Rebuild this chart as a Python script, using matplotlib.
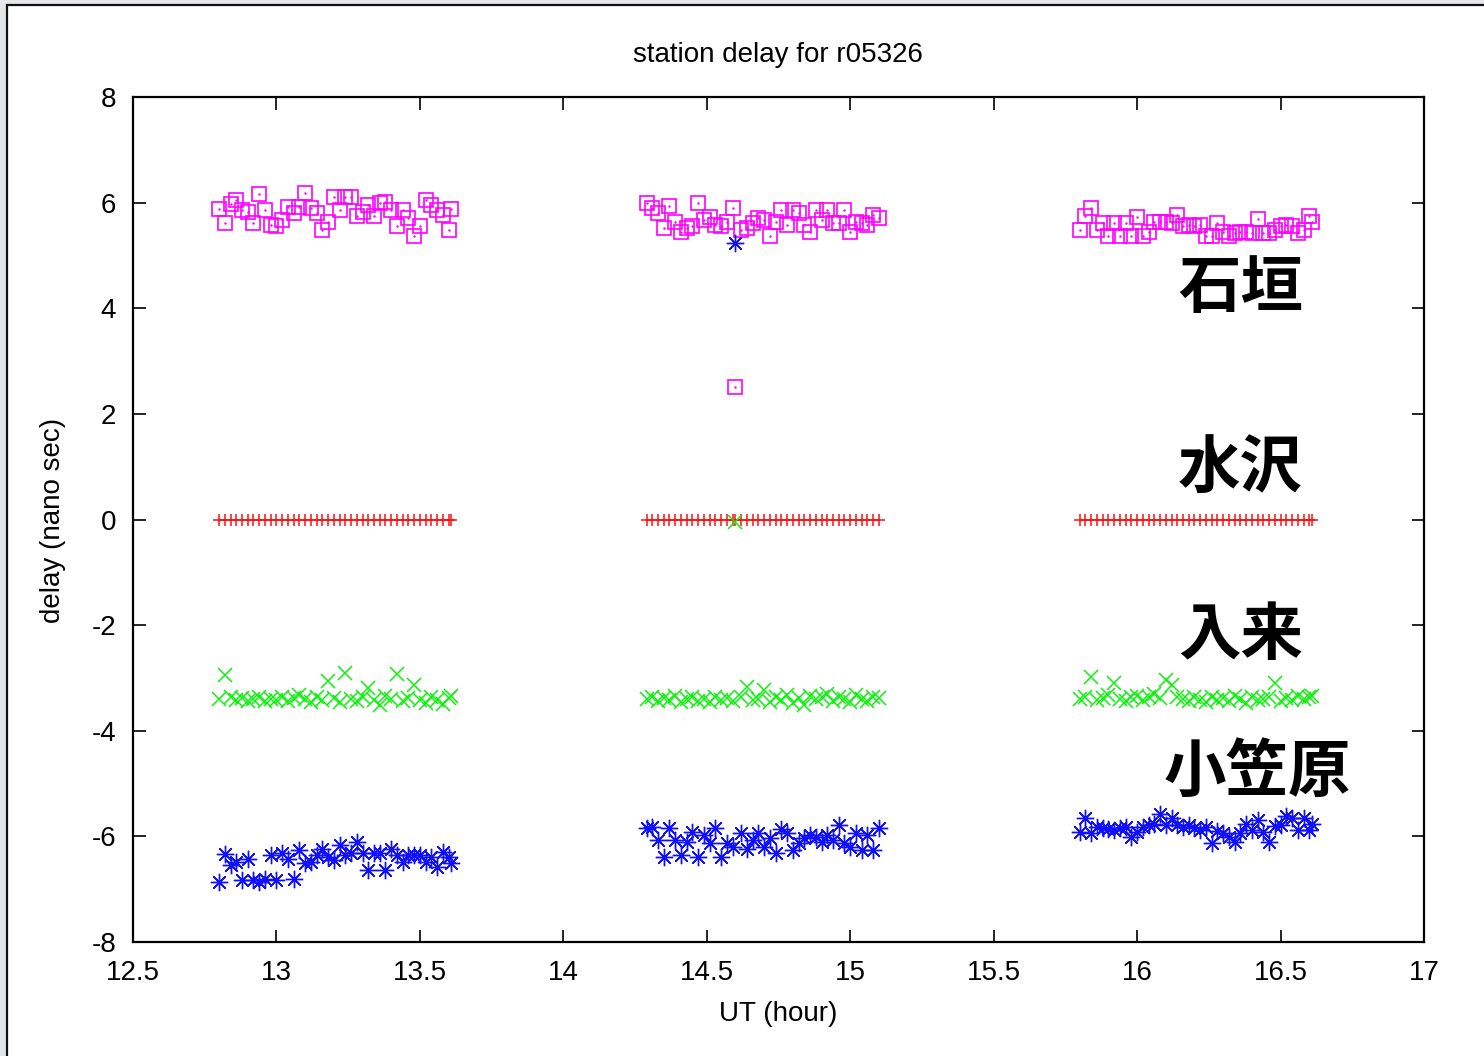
import numpy as np
import matplotlib
matplotlib.use("Agg")
import matplotlib.pyplot as plt
from matplotlib.patches import Rectangle

# scan times (UT hour), three sessions
t1 = [12.80, 12.82, 12.84, 12.86, 12.88, 12.90, 12.92, 12.94, 12.96, 12.98,
      13.00, 13.02, 13.04, 13.06, 13.08, 13.10, 13.12, 13.14, 13.16, 13.18,
      13.20, 13.22, 13.24, 13.26, 13.28, 13.30, 13.32, 13.34, 13.36, 13.38,
      13.40, 13.42, 13.44, 13.46, 13.48, 13.50, 13.52, 13.54, 13.56, 13.58,
      13.60, 13.61]
t2 = [14.29, 14.31, 14.33, 14.35, 14.37, 14.39, 14.41, 14.43, 14.45, 14.47,
      14.49, 14.51, 14.53, 14.55, 14.57, 14.59, 14.60, 14.62, 14.64, 14.66,
      14.68, 14.70, 14.72, 14.74, 14.76, 14.78, 14.80, 14.82, 14.84, 14.86,
      14.88, 14.90, 14.92, 14.94, 14.96, 14.98, 15.00, 15.02, 15.04, 15.06,
      15.08, 15.10]
t3 = [15.80, 15.82, 15.84, 15.86, 15.88, 15.90, 15.92, 15.94, 15.96, 15.98,
      16.00, 16.02, 16.04, 16.06, 16.08, 16.10, 16.12, 16.14, 16.16, 16.18,
      16.20, 16.22, 16.24, 16.26, 16.28, 16.30, 16.32, 16.34, 16.36, 16.38,
      16.40, 16.42, 16.44, 16.46, 16.48, 16.50, 16.52, 16.54, 16.56, 16.58,
      16.60, 16.61]

# Ishigaki (magenta squares)
ishigaki_1 = [5.88, 5.62, 5.97, 6.05, 5.86, 5.83, 5.62, 6.16, 5.86, 5.58,
              5.55, 5.67, 5.92, 5.80, 5.92, 6.18, 5.90, 5.80, 5.48, 5.64,
              6.11, 5.86, 6.11, 6.11, 5.74, 5.83, 5.96, 5.74, 5.99, 6.02,
              5.86, 5.55, 5.86, 5.71, 5.36, 5.55, 6.05, 5.96, 5.86, 5.77,
              5.48, 5.88]
ishigaki_2 = [5.99, 5.90, 5.80, 5.52, 5.94, 5.64, 5.45, 5.52, 5.55, 6.00,
              5.67, 5.73, 5.58, 5.55, 5.64, 5.89, 2.50, 5.48, 5.52, 5.61,
              5.70, 5.67, 5.36, 5.64, 5.86, 5.58, 5.86, 5.80, 5.58, 5.45,
              5.86, 5.67, 5.86, 5.61, 5.61, 5.86, 5.45, 5.64, 5.61, 5.58,
              5.77, 5.70]
ishigaki_3 = [5.48, 5.74, 5.89, 5.48, 5.61, 5.36, 5.62, 5.36, 5.62, 5.36,
              5.72, 5.36, 5.45, 5.64, 5.64, 5.64, 5.61, 5.77, 5.55, 5.58,
              5.55, 5.58, 5.36, 5.36, 5.61, 5.45, 5.36, 5.42, 5.45, 5.45,
              5.42, 5.69, 5.42, 5.42, 5.48, 5.55, 5.58, 5.55, 5.42, 5.48,
              5.74, 5.64]

# Mizusawa (reference, red plus)
mizusawa_1 = [0.0, 0.0, 0.0, 0.0, 0.0, 0.0, 0.0, 0.0, 0.0, 0.0, 0.0, 0.0, 0.0, 0.0,
              0.0, 0.0, 0.0, 0.0, 0.0, 0.0, 0.0, 0.0, 0.0, 0.0, 0.0, 0.0, 0.0, 0.0,
              0.0, 0.0, 0.0, 0.0, 0.0, 0.0, 0.0, 0.0, 0.0, 0.0, 0.0, 0.0, 0.0, 0.0]
mizusawa_2 = [0.0, 0.0, 0.0, 0.0, 0.0, 0.0, 0.0, 0.0, 0.0, 0.0, 0.0, 0.0, 0.0, 0.0,
              0.0, 0.0, 0.0, 0.0, 0.0, 0.0, 0.0, 0.0, 0.0, 0.0, 0.0, 0.0, 0.0, 0.0,
              0.0, 0.0, 0.0, 0.0, 0.0, 0.0, 0.0, 0.0, 0.0, 0.0, 0.0, 0.0, 0.0, 0.0]
mizusawa_3 = [0.0, 0.0, 0.0, 0.0, 0.0, 0.0, 0.0, 0.0, 0.0, 0.0, 0.0, 0.0, 0.0, 0.0,
              0.0, 0.0, 0.0, 0.0, 0.0, 0.0, 0.0, 0.0, 0.0, 0.0, 0.0, 0.0, 0.0, 0.0,
              0.0, 0.0, 0.0, 0.0, 0.0, 0.0, 0.0, 0.0, 0.0, 0.0, 0.0, 0.0, 0.0, 0.0]

# Iriki (green x)
iriki_1 = [-3.40, -2.95, -3.36, -3.42, -3.38, -3.44, -3.40, -3.37, -3.43, -3.39,
           -3.41, -3.36, -3.44, -3.38, -3.33, -3.40, -3.45, -3.37, -3.42, -3.05,
           -3.38, -3.46, -2.90, -3.39, -3.43, -3.36, -3.19, -3.41, -3.52, -3.35,
           -3.40, -2.93, -3.44, -3.38, -3.13, -3.41, -3.47, -3.36, -3.42, -3.50,
           -3.38, -3.34]
iriki_2 = [-3.40, -3.36, -3.44, -3.38, -3.42, -3.35, -3.46, -3.40, -3.37, -3.43,
           -3.39, -3.45, -3.36, -3.41, -3.38, -3.44, -0.05, -3.37, -3.17, -3.42,
           -3.39, -3.22, -3.46, -3.36, -3.41, -3.33, -3.48, -3.38, -3.52, -3.35,
           -3.40, -3.37, -3.30, -3.43, -3.36, -3.40, -3.46, -3.33, -3.39, -3.44,
           -3.36, -3.38]
iriki_3 = [-3.40, -3.36, -2.98, -3.42, -3.38, -3.33, -3.10, -3.40, -3.44, -3.37,
           -3.35, -3.41, -3.36, -3.30, -3.38, -3.04, -3.13, -3.36, -3.40, -3.43,
           -3.37, -3.41, -3.46, -3.36, -3.42, -3.38, -3.44, -3.35, -3.40, -3.47,
           -3.37, -3.42, -3.39, -3.36, -3.10, -3.44, -3.38, -3.41, -3.35, -3.40,
           -3.37, -3.34]

# Ogasawara (blue star)
ogasawara_1 = [-6.86, -6.34, -6.54, -6.48, -6.83, -6.42, -6.83, -6.86, -6.80, -6.35,
               -6.83, -6.32, -6.42, -6.80, -6.26, -6.51, -6.48, -6.35, -6.23, -6.39,
               -6.45, -6.17, -6.35, -6.32, -6.10, -6.32, -6.64, -6.32, -6.32, -6.64,
               -6.23, -6.35, -6.48, -6.35, -6.35, -6.35, -6.48, -6.39, -6.58, -6.29,
               -6.39, -6.51]
ogasawara_2 = [-5.85, -5.82, -6.07, -6.39, -5.85, -6.07, -6.35, -6.10, -5.91, -6.39,
               -5.98, -6.13, -5.85, -6.39, -6.13, -6.20, 5.23, -5.94, -6.23, -6.07,
               -5.94, -6.20, -6.04, -6.32, -5.86, -5.94, -6.26, -6.13, -6.04, -5.98,
               -6.01, -6.10, -5.98, -6.07, -5.78, -6.13, -6.20, -5.94, -6.26, -5.98,
               -6.26, -5.85]
ogasawara_3 = [-5.91, -5.66, -5.94, -5.82, -5.85, -5.86, -5.88, -5.85, -5.82, -6.01,
               -5.91, -5.83, -5.79, -5.76, -5.57, -5.79, -5.66, -5.79, -5.82, -5.79,
               -5.85, -5.88, -5.82, -6.13, -5.90, -5.94, -6.01, -6.10, -5.94, -5.76,
               -5.88, -5.69, -5.91, -6.10, -5.80, -5.79, -5.62, -5.65, -5.88, -5.66,
               -5.88, -5.76]

station_names = ["石垣", "水沢", "入来", "小笠原"]
label_x = [16.36, 16.36, 16.36, 16.42]
label_y = [4.38, 0.94, -2.19, -4.78]

xticks = [12.5, 13, 13.5, 14, 14.5, 15, 15.5, 16, 16.5, 17]
yticks = [-8, -6, -4, -2, 0, 2, 4, 6, 8]

W, H = 1484, 1056
fig = plt.figure(figsize=(W / 100, H / 100), dpi=100)
fig.patch.set_facecolor("#e4e6ea")
# white window with dark border on left/top
fig.patches.append(Rectangle((7 / W, -0.05), 1.2, 1 - 5 / H + 0.05,
                             transform=fig.transFigure, facecolor="white",
                             edgecolor="#111111", lw=1.6, zorder=-10))

ax = fig.add_axes([133 / W, 1 - 942 / H, (1424 - 133) / W, (942 - 97) / H])
ax.set_facecolor("white")
ax.set_zorder(1)

t_all = [t1, t2, t3]
for t, y in zip(t_all, [mizusawa_1, mizusawa_2, mizusawa_3]):
    ax.plot(t, y, ls="none", marker="+", ms=8.5, mew=1.1, color="#ff1010")
for t, y in zip(t_all, [ishigaki_1, ishigaki_2, ishigaki_3]):
    ax.plot(t, y, ls="none", marker="s", ms=10, mew=1.2, mfc="none", mec="#ff00ff")
    ax.plot(t, y, ls="none", marker=".", ms=1.5, color="#ff00ff")
for t, y in zip(t_all, [iriki_1, iriki_2, iriki_3]):
    ax.plot(t, y, ls="none", marker="x", ms=10, mew=1.1, color="#10ee10")
for t, y in zip(t_all, [ogasawara_1, ogasawara_2, ogasawara_3]):
    ax.plot(t, y, ls="none", marker=(8, 2, 0), ms=12.5, mew=1.0, color="#1010ff")

for name, x, y in zip(station_names, label_x, label_y):
    ax.text(x, y, name, ha="center", va="center", fontsize=45, fontweight="bold",
            family=["Noto Sans CJK JP", "DejaVu Sans"], color="black")

ax.set_xlim(12.5, 17)
ax.set_ylim(-8, 8)
ax.set_xticks(xticks)
ax.set_xticklabels(["12.5", "13", "13.5", "14", "14.5", "15", "15.5", "16", "16.5", "17"])
ax.set_yticks(yticks)
ax.set_yticklabels([str(v) for v in yticks])
ax.tick_params(direction="in", length=9, width=1.2, top=True, right=True,
               labelsize=20, colors="black")
ax.tick_params(axis="x", pad=13)
ax.tick_params(axis="y", pad=12)
for lab in ax.get_xticklabels() + ax.get_yticklabels():
    lab.set_family("Liberation Sans")
for sp in ax.spines.values():
    sp.set_linewidth(1.6)

fig.text(778 / W, 1 - 55 / H, "station delay for r05326", ha="center", va="center",
         fontsize=20, family="Liberation Sans")
fig.text(778 / W, 1 - 1014 / H, "UT (hour)", ha="center", va="center",
         fontsize=20, family="Liberation Sans")
fig.text(53 / W, 1 - 520 / H, "delay (nano sec)", ha="center", va="center",
         rotation=90, fontsize=20, family="Liberation Sans")

fig.savefig("out.png", dpi=100, facecolor=fig.get_facecolor())
